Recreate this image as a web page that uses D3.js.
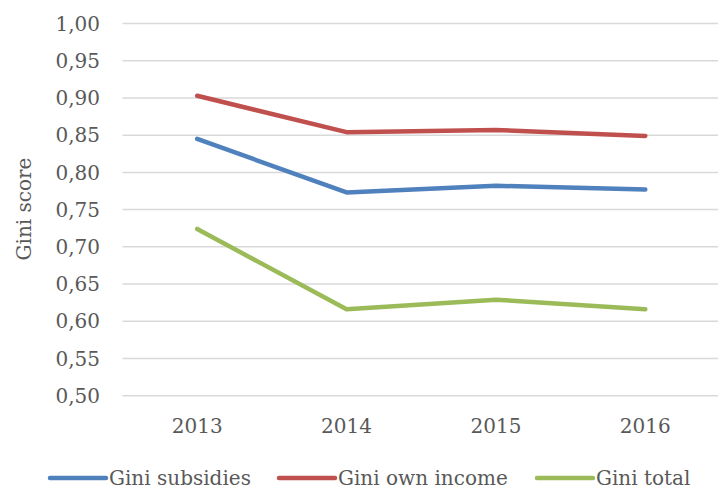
<!DOCTYPE html>
<html>
<head>
<meta charset="utf-8">
<script src="https://cdn.jsdelivr.net/npm/d3@7"></script>
<style>
  body { margin: 0; background: #fff; }
  svg text { font-family: "DejaVu Serif", serif; fill: #595959; }
</style>
</head>
<body>
<svg width="718" height="491"></svg>
<script>
var years = ["2013", "2014", "2015", "2016"];
var giniSubsidies = [0.845, 0.773, 0.782, 0.777];
var giniOwnIncome = [0.903, 0.854, 0.857, 0.849];
var giniTotal = [0.724, 0.616, 0.629, 0.616];
var yTicks = [0.50, 0.55, 0.60, 0.65, 0.70, 0.75, 0.80, 0.85, 0.90, 0.95, 1.00];

var series = [
    {name: "Gini subsidies", values: giniSubsidies, color: "#4F81BD"},
    {name: "Gini own income", values: giniOwnIncome, color: "#C0504D"},
    {name: "Gini total", values: giniTotal, color: "#9BBB59"}
];

var svg = d3.select("svg"),
    plotLeft = 122.5,
    plotRight = 720,
    plotTop = 23.5,
    plotBottom = 395.7;

var xScale = d3.scalePoint().domain(years).range([plotLeft, plotRight]).padding(0.5),
    yScale = d3.scaleLinear().domain([0.5, 1.0]).range([plotBottom, plotTop]);

var fmt = function (d) { return d3.format(".2f")(d).replace(".", ","); };

// gridlines
svg.append("g").selectAll("line")
    .data(yTicks)
    .enter().append("line")
    .attr("x1", plotLeft)
    .attr("x2", plotRight)
    .attr("y1", function (d) { return yScale(d); })
    .attr("y2", function (d) { return yScale(d); })
    .attr("stroke", "#D9D9D9")
    .attr("stroke-width", 1.5);

// y labels
svg.append("g").selectAll("text")
    .data(yTicks)
    .enter().append("text")
    .attr("x", 100)
    .attr("y", function (d) { return yScale(d); })
    .attr("dy", "0.36em")
    .attr("text-anchor", "end")
    .style("font-size", "20px")
    .text(fmt);

// x labels
svg.append("g").selectAll("text")
    .data(years)
    .enter().append("text")
    .attr("x", function (d) { return xScale(d); })
    .attr("y", 433)
    .attr("text-anchor", "middle")
    .style("font-size", "20px")
    .text(function (d) { return d; });

// y title
svg.append("text")
    .attr("transform", "translate(31,209) rotate(-90)")
    .attr("text-anchor", "middle")
    .style("font-size", "20px")
    .text("Gini score");

var line = d3.line()
    .x(function (d, i) { return xScale(years[i]); })
    .y(function (d) { return yScale(d); });

svg.append("g").selectAll("path")
    .data(series)
    .enter().append("path")
    .attr("d", function (d) { return line(d.values); })
    .attr("fill", "none")
    .attr("stroke", function (d) { return d.color; })
    .attr("stroke-width", 4.5)
    .attr("stroke-linecap", "round")
    .attr("stroke-linejoin", "round");

// legend
var legendX = [50, 279, 537];
var leg = svg.append("g").selectAll("g")
    .data(series)
    .enter().append("g")
    .attr("transform", function (d, i) { return "translate(" + legendX[i] + ",478)"; });

leg.append("line")
    .attr("x1", 0)
    .attr("x2", 56)
    .attr("stroke", function (d) { return d.color; })
    .attr("stroke-width", 4.5)
    .attr("stroke-linecap", "round");

leg.append("text")
    .attr("x", 59)
    .attr("dy", "0.36em")
    .style("font-size", "20px")
    .text(function (d) { return d.name; });
</script>
</body>
</html>
